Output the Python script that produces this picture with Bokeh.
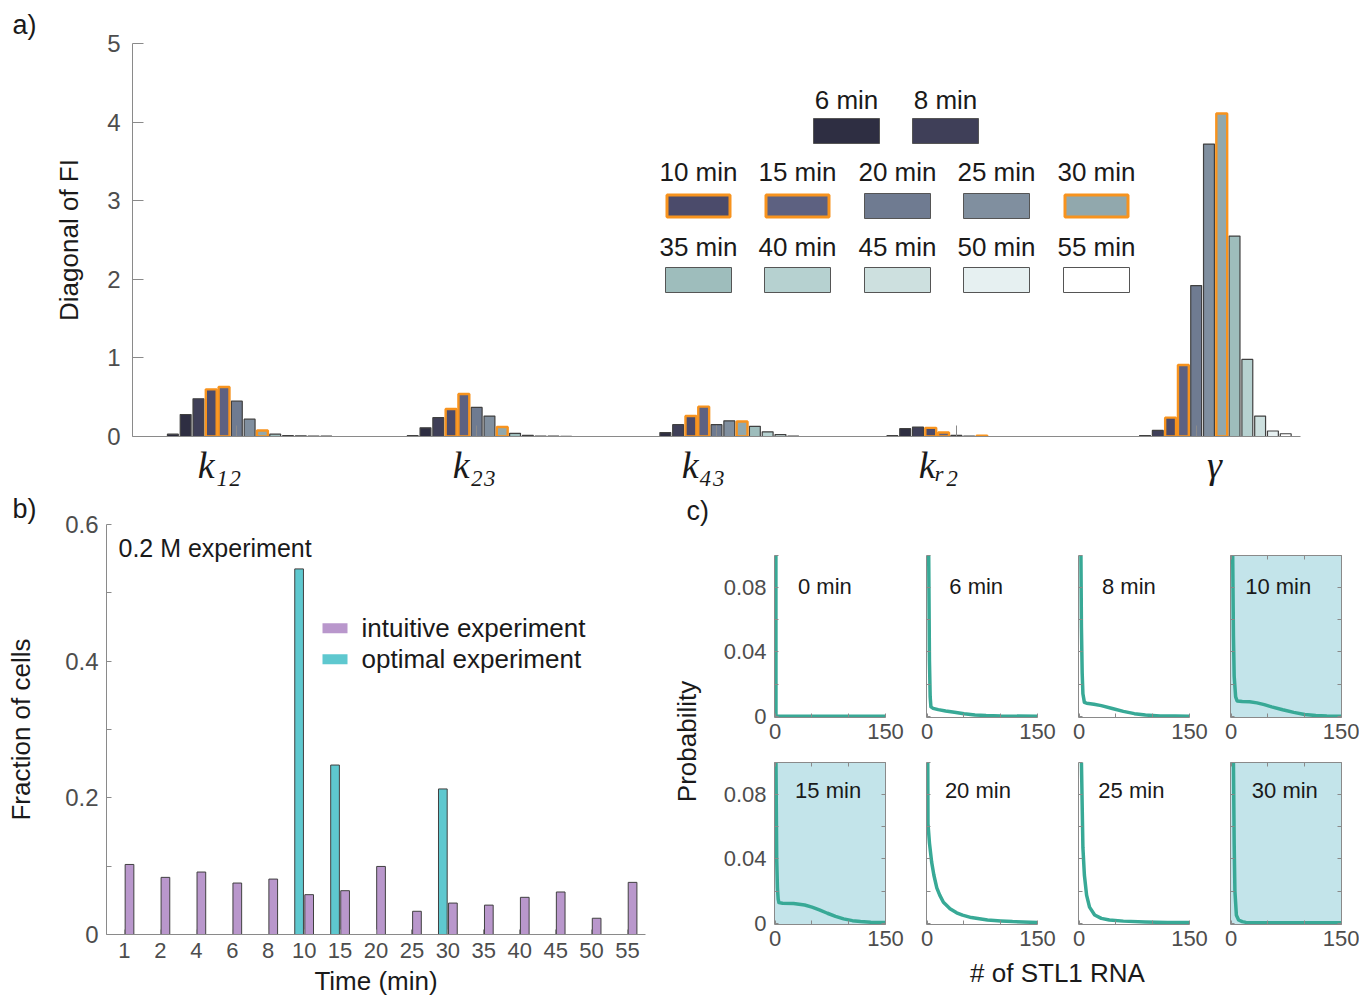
import math
from bokeh.plotting import figure
from bokeh.layouts import row, column
from bokeh.models import ColumnDataSource, Range1d, FixedTicker, LinearAxis
from bokeh.core.properties import value
from bokeh.embed import file_html
from bokeh.resources import INLINE

# ---------------- panel a data: diagonal of the Fisher information ----------------
times = ["1", "2", "4", "6", "8", "10", "15", "20", "25", "30", "35", "40", "45", "50", "55"]
fi_k12 = [0.0, 0.0, 0.03, 0.28, 0.48, 0.60, 0.63, 0.45, 0.22, 0.077, 0.03, 0.01, 0.008, 0.005, 0.004]
fi_k23 = [0.0, 0.0, 0.01, 0.11, 0.24, 0.35, 0.54, 0.37, 0.26, 0.12, 0.04, 0.015, 0.006, 0.004, 0.003]
fi_k43 = [0.0, 0.0, 0.0, 0.05, 0.15, 0.26, 0.38, 0.15, 0.20, 0.19, 0.13, 0.06, 0.025, 0.005, 0.0]
fi_kr2 = [0.0, 0.0, 0.01, 0.10, 0.12, 0.11, 0.05, 0.015, 0.005, 0.01, 0.0, 0.0, 0.0, 0.0, 0.0]
fi_gamma = [0.0, 0.0, 0.0, 0.013, 0.077, 0.24, 0.91, 1.92, 3.72, 4.11, 2.55, 0.98, 0.26, 0.07, 0.035]
highlight_times = ["10", "15", "30"]
time_colors = ["#1c1c2a", "#232334", "#29293b", "#2e2e42", "#3f3f58", "#4b4b6b", "#5d6181",
               "#6f7b91", "#808f9f", "#91a8ad", "#9ebdbc", "#b6d1d0", "#cde0df", "#e6f0f1", "#ffffff"]
param_labels = ["k\u2081\u2082", "k\u2082\u2083", "k\u2084\u2083", "k\u1d63\u2082", "\u03b3"]

# ---------------- panel b data: fraction of cells ----------------
time_labels_b = ["1", "2", "4", "6", "8", "10", "15", "20", "25", "30", "35", "40", "45", "50", "55"]
intuitive = [0.1025, 0.0836, 0.0914, 0.0753, 0.0811, 0.0583, 0.0641, 0.0996, 0.034, 0.046,
             0.043, 0.0544, 0.0622, 0.0238, 0.0763]
optimal = [0.0, 0.0, 0.0, 0.0, 0.0, 0.535, 0.248, 0.0, 0.0, 0.213, 0.0, 0.0, 0.0, 0.0, 0.0]

# ---------------- panel c data: STL1 RNA distributions ----------------
c_titles = ["0 min", "6 min", "8 min", "10 min", "15 min", "20 min", "25 min", "30 min"]
c_shaded = [False, False, False, True, True, False, False, True]
rna_0 = [0, 1, 2, 150]
prob_0 = [1.0, 0.0, 0.0, 0.0]
rna_6 = [0, 1, 2, 3, 4, 5, 8, 15, 25, 37, 50, 65, 80, 100, 150]
prob_6 = [0.9, 0.3, 0.1, 0.035, 0.012, 0.0058, 0.0049, 0.0041, 0.0033, 0.0025, 0.0015, 0.0008, 0.0004, 0.0001, 0.0]
rna_8 = [0, 1, 2, 3, 4, 5, 7, 10, 20, 30, 45, 60, 75, 90, 110, 130, 150]
prob_8 = [0.8, 0.3, 0.12, 0.055, 0.027, 0.014, 0.0086, 0.0081, 0.0075, 0.0066, 0.0048, 0.003, 0.0016, 0.0007, 0.0002, 0.0001, 0.0]
rna_10 = [0, 1, 2, 3, 4, 6, 8, 15, 25, 35, 45, 55, 70, 85, 100, 115, 130, 150]
prob_10 = [0.6, 0.25, 0.1, 0.05, 0.025, 0.012, 0.0095, 0.0092, 0.009, 0.0083, 0.0072, 0.0058, 0.004, 0.0024, 0.0011, 0.0004, 0.0001, 0.0]
rna_15 = [0, 1, 2, 3, 4, 5, 10, 25, 40, 50, 60, 71, 82, 93, 105, 116, 130, 150]
prob_15 = [0.3, 0.1, 0.04, 0.022, 0.015, 0.0128, 0.0124, 0.0123, 0.0113, 0.01, 0.0083, 0.0062, 0.0043, 0.0027, 0.0016, 0.001, 0.0006, 0.0004]
rna_20 = [0, 1, 3, 6, 9, 13, 17, 22, 31, 40, 48, 60, 82, 100, 116, 150]
prob_20 = [0.2, 0.062, 0.05, 0.038, 0.03, 0.022, 0.0175, 0.013, 0.009, 0.0065, 0.005, 0.0035, 0.002, 0.0014, 0.001, 0.0005]
rna_25 = [0, 2, 3, 5, 7, 10, 14, 21, 30, 41, 60, 90, 120, 150]
prob_25 = [0.3, 0.15, 0.1, 0.047, 0.03, 0.0175, 0.01, 0.0051, 0.003, 0.002, 0.0013, 0.0008, 0.0005, 0.0004]
rna_30 = [0, 2, 3, 4, 5, 7, 10, 15, 20, 40, 80, 150]
prob_30 = [0.4, 0.2, 0.1, 0.05, 0.02, 0.005, 0.002, 0.001, 0.0005, 0.0003, 0.0003, 0.0003]

# ---------------- styles ----------------
SANS = "Liberation Sans"
SERIF = "Liberation Serif"
INK = "#1a1a1a"
TICK_INK = "#4d4d4d"
AXIS = "#8a8a8a"
ORANGE = "#f7931e"
EDGE = "#404040"
PURPLE = "#b997cc"
CYAN = "#5ec8cf"
TEAL = "#38a996"
SHADE = "#c3e4ea"


def style_axis(ax, tick_len, font_px, standoff):
    ax.axis_line_color = AXIS
    ax.axis_line_width = 1
    ax.major_tick_line_color = AXIS
    ax.minor_tick_line_color = AXIS
    ax.major_tick_in = tick_len
    ax.major_tick_out = 0
    ax.minor_tick_in = tick_len
    ax.minor_tick_out = 0
    ax.major_label_text_font = SANS
    ax.major_label_standoff = standoff
    if font_px:
        ax.major_label_text_font_size = f"{font_px}px"
        ax.major_label_text_color = TICK_INK
    else:  # ticks only, no tick labels drawn
        ax.major_label_text_font_size = "1px"
        ax.major_label_text_color = None
    ax.axis_label_text_font = SANS
    ax.axis_label_text_font_style = "normal"
    ax.axis_label_text_color = INK


def style_title(p, text, offset, standoff):
    p.title.text = text
    p.title.align = "left"
    p.title.offset = offset
    p.title.standoff = standoff
    p.title.text_font = SANS
    p.title.text_font_size = "27px"
    p.title.text_font_style = "normal"
    p.title.text_color = INK


# =============== panel a ===============
A_W, A_L, A_R, A_T, A_FH, A_B = 1360, 132, 60, 43, 393, 54
A_H = A_T + A_FH + A_B
A_FW = A_W - A_L - A_R
XA = (0.565, 5.435)
YA = (0.0, 5.0)
pa = figure(width=A_W, height=A_H, x_range=Range1d(*XA), y_range=Range1d(*YA),
            output_backend="svg", toolbar_location=None,
            min_border_left=A_L, min_border_right=A_R, min_border_top=A_T, min_border_bottom=A_B)
pa.grid.visible = False
pa.outline_line_color = None
style_title(pa, "a)", 12 - A_L, 8)


def ax_a(px):
    return XA[0] + (px - A_L) * (XA[1] - XA[0]) / A_FW


def ay_a(py):
    return YA[1] - (py - A_T) * (YA[1] - YA[0]) / A_FH


series = [fi_k12, fi_k23, fi_k43, fi_kr2, fi_gamma]
n_t = len(times)
pitch = 0.8 / n_t
for hl in (False, True):
    d = dict(x=[], top=[], fill=[], line=[], lw=[])
    for gi, vals in enumerate(series):
        for ti, v in enumerate(vals):
            is_hl = times[ti] in highlight_times
            if is_hl != hl:
                continue
            d["x"].append(gi + 1 + (ti - (n_t - 1) / 2) * pitch)
            d["top"].append(v)
            d["fill"].append(time_colors[ti])
            d["line"].append(ORANGE if is_hl else EDGE)
            d["lw"].append(2.4 if is_hl else 1.2)
    pa.vbar(x="x", top="top", bottom=0, width=pitch * 0.85, fill_color="fill",
            line_color="line", line_width="lw", source=ColumnDataSource(d))

style_axis(pa.xaxis[0], 11, 0, 0)
pa.xaxis.ticker = FixedTicker(ticks=[1, 2, 3, 4, 5])
style_axis(pa.yaxis[0], 11, 24, 12)
pa.yaxis.ticker = FixedTicker(ticks=[0, 1, 2, 3, 4, 5])
pa.yaxis.axis_label = "Diagonal of FI"
pa.yaxis.axis_label_text_font_size = "26px"
pa.yaxis.axis_label_standoff = 20

# parameter names: a second bottom axis whose labels sit where the figure prints them
label_center_px = [219, 474, 703, 938, 1214]
name_ticks = [ax_a(px) for px in label_center_px]
name_axis = LinearAxis(ticker=FixedTicker(ticks=name_ticks))
name_axis.major_label_overrides = {t: s for t, s in zip(name_ticks, param_labels)}
name_axis.axis_line_color = None
name_axis.major_tick_line_color = None
name_axis.minor_tick_line_color = None
name_axis.major_label_standoff = 1
name_axis.major_label_text_font = SERIF
name_axis.major_label_text_font_style = "italic"
name_axis.major_label_text_font_size = "38px"
name_axis.major_label_text_color = INK
pa.add_layout(name_axis, "below")

# legend of panel a (custom grid: label above swatch)
legend_times = times[3:]
leg_rows = [legend_times[:2], legend_times[2:7], legend_times[7:]]
leg_row_text_py = [99, 171, 246]
leg_row_swatch_py = [130.5, 205.5, 279.5]
leg_row_cx = [[846, 945], [698, 797, 897, 996, 1096], [698, 797, 897, 996, 1096]]
lg = dict(x=[], ys=[], yt=[], w=[], h=[], fill=[], line=[], lw=[], txt=[])
for r, ts in enumerate(leg_rows):
    for c, t in enumerate(ts):
        is_hl = t in highlight_times
        lg["x"].append(ax_a(leg_row_cx[r][c]))
        lg["ys"].append(ay_a(leg_row_swatch_py[r]))
        lg["yt"].append(ay_a(leg_row_text_py[r]))
        lg["w"].append(63 if is_hl else 66)
        lg["h"].append(22 if is_hl else 25)
        lg["fill"].append(time_colors[times.index(t)])
        lg["line"].append(ORANGE if is_hl else "#555555")
        lg["lw"].append(3 if is_hl else 1)
        lg["txt"].append(f"{t} min")
lsrc = ColumnDataSource(lg)
pa.rect(x="x", y="ys", width="w", height="h", width_units="screen", height_units="screen",
        fill_color="fill", line_color="line", line_width="lw", source=lsrc)
pa.text(x="x", y="yt", text="txt", text_font=value(SANS), text_font_size="26px",
        text_align="center", text_baseline="middle", text_color=INK, source=lsrc)

# =============== panel b ===============
B_TOP = A_H
B_W, B_H, B_L, B_R, B_T, B_FH = 670, 510, 106, 25, 33, 411
B_B = B_H - B_T - B_FH
B_FW = B_W - B_L - B_R
XB = (0.5, 15.5)
YB = (0.0, 0.6)
pb = figure(width=B_W, height=B_H, x_range=Range1d(*XB), y_range=Range1d(*YB),
            output_backend="svg", toolbar_location=None,
            min_border_left=B_L, min_border_right=B_R, min_border_top=B_T, min_border_bottom=B_B)
pb.grid.visible = False
pb.outline_line_color = None
style_title(pb, "b)", 12 - B_L, 2)


def bx(px):
    return XB[0] + (px - B_L) * (XB[1] - XB[0]) / B_FW


def by(py):
    return YB[1] - (py - (B_TOP + B_T)) * (YB[1] - YB[0]) / B_FH


cat = list(range(1, len(time_labels_b) + 1))
pb.vbar(x=[c - 0.14 for c in cat], top=optimal, width=0.242, fill_color=CYAN,
        line_color=EDGE, line_width=1)
pb.vbar(x=[c + 0.14 for c in cat], top=intuitive, width=0.242, fill_color=PURPLE,
        line_color=EDGE, line_width=1)

style_axis(pb.xaxis[0], 5, 22, 8)
pb.xaxis.ticker = FixedTicker(ticks=cat)
pb.xaxis.major_label_overrides = {c: t for c, t in zip(cat, time_labels_b)}
pb.xaxis.axis_label = "Time (min)"
pb.xaxis.axis_label_text_font_size = "26px"
pb.xaxis.axis_label_standoff = 5
style_axis(pb.yaxis[0], 5, 24, 8)
pb.yaxis.ticker = FixedTicker(ticks=[0, 0.2, 0.4, 0.6], minor_ticks=[0.1, 0.3, 0.5])
pb.yaxis.major_label_overrides = {0: "0", 0.2: "0.2", 0.4: "0.4", 0.6: "0.6"}
pb.yaxis.axis_label = "Fraction of cells"
pb.yaxis.axis_label_text_font_size = "26px"
pb.yaxis.axis_label_standoff = 26

pb.text(x=[bx(118)], y=[by(547)], text=["0.2 M experiment"], text_font=value(SANS),
        text_font_size="25px", text_align="left", text_baseline="middle", text_color=INK)
leg_b = ["intuitive experiment", "optimal experiment"]
leg_b_colors = [PURPLE, CYAN]
leg_b_py = [627, 658]
pb.rect(x=[bx(334.5)] * 2, y=[by(v) for v in leg_b_py], width=25, height=10,
        width_units="screen", height_units="screen", fill_color=leg_b_colors, line_color=None)
pb.text(x=[bx(361)] * 2, y=[by(v) for v in leg_b_py], text=leg_b, text_font=value(SANS),
        text_font_size="26px", text_align="left", text_baseline="middle", text_color=INK)

# =============== panel c ===============
FR_W, FR_H = 111, 162
row_top = [65, 9]
row_bottom = [36, 34]


def blank(w, h):
    f = figure(width=w, height=h, x_range=Range1d(0, w), y_range=Range1d(0, h),
               output_backend="svg", toolbar_location=None, min_border=0,
               x_axis_type=None, y_axis_type=None)
    f.grid.visible = False
    f.outline_line_color = None
    return f


# narrow strip holding "c)" and the shared y label (its own sub-layout, so no frame alignment)
YL_W = 40
ylab = blank(YL_W, B_H)
ylab.text(x=[16], y=[B_H - (510 - B_TOP)], text=["c)"], text_font=value(SANS), text_font_size="27px",
          text_align="left", text_baseline="middle", text_color=INK)
ylab.text(x=[16], y=[B_H - (741 - B_TOP)], text=["Probability"], angle=math.pi / 2,
          text_font=value(SANS), text_font_size="26px", text_align="center",
          text_baseline="middle", text_color=INK)

c_data = [(rna_0, prob_0), (rna_6, prob_6), (rna_8, prob_8), (rna_10, prob_10),
          (rna_15, prob_15), (rna_20, prob_20), (rna_25, prob_25), (rna_30, prob_30)]
c_title_x = [31, 30, 31, 19, 27, 24, 26, 28]
figs = []
for i, ((xv, yv), title, shaded) in enumerate(zip(c_data, c_titles, c_shaded)):
    r, c = divmod(i, 4)
    left = 64 if c == 0 else 21
    right = 18 if c == 3 else 20
    f = figure(width=left + FR_W + right, height=row_top[r] + FR_H + row_bottom[r],
               x_range=Range1d(-1, 150), y_range=Range1d(-0.0008, 0.1),
               output_backend="svg", toolbar_location=None,
               min_border_left=left, min_border_right=right,
               min_border_top=row_top[r], min_border_bottom=row_bottom[r])
    f.grid.visible = False
    f.outline_line_color = None
    if shaded:
        f.background_fill_color = SHADE
    f.line(x=xv, y=yv, line_color=TEAL, line_width=3.5, line_join="round")
    f.text(x=[c_title_x[i]], y=[0.081 if r == 0 else 0.0827], text=[title], text_font=value(SANS),
           text_font_size="22px", text_align="left", text_baseline="middle", text_color=INK)
    style_axis(f.xaxis[0], 4, 22, 6)
    f.xaxis.ticker = FixedTicker(ticks=[0, 150], minor_ticks=[50, 100])
    style_axis(f.yaxis[0], 4, 22 if c == 0 else 0, 8 if c == 0 else 0)
    f.yaxis.ticker = FixedTicker(ticks=[0, 0.04, 0.08], minor_ticks=[0.02, 0.06, 0.1])
    f.yaxis.major_label_overrides = {0: "0", 0.04: "0.04", 0.08: "0.08"}
    if shaded:
        for loc, tk in (("above", FixedTicker(ticks=[0, 150], minor_ticks=[50, 100])),
                        ("right", FixedTicker(ticks=[0, 0.04, 0.08], minor_ticks=[0.02, 0.06, 0.1]))):
            ax = LinearAxis(ticker=tk)
            style_axis(ax, 4, 0, 0)
            f.add_layout(ax, loc)
    figs.append(f)

grid_w = sum(f.width for f in figs[:4])
grid_h = figs[0].height + figs[4].height
XL_H = B_H - grid_h
xlab = blank(grid_w, XL_H)
xlab.text(x=[1057 - (B_W + YL_W)], y=[XL_H - (972 - (B_TOP + grid_h))], text=["# of STL1 RNA"],
          text_font=value(SANS), text_font_size="26px", text_align="center",
          text_baseline="middle", text_color=INK)

c_block = column(row(*figs[:4]), row(*figs[4:]), xlab)
# pb and the panel-c block live in separate sub-layouts so their frames are not aligned
root = column(pa, row(column(pb), row(ylab, c_block)))

open("out.html", "w").write(file_html(root, INLINE, title="Fisher information and optimal experiment"))
